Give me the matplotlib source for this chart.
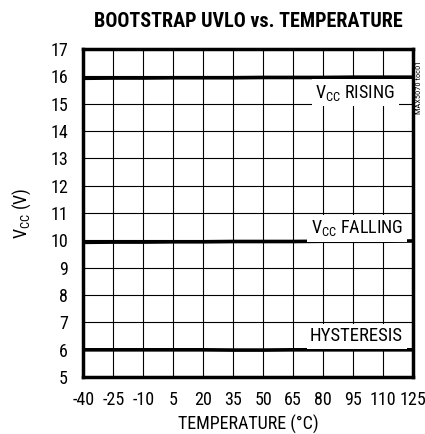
import matplotlib
matplotlib.use("Agg")
import matplotlib.pyplot as plt

# values
temperature = [-40, -25, -10, 5, 20, 35, 50, 65, 80, 95, 110, 125]
vcc_rising = [15.93, 15.94, 15.94, 15.95, 15.95, 15.95, 15.96, 15.96, 15.96, 15.97, 15.97, 15.97]
vcc_falling = [9.93, 9.94, 9.94, 9.95, 9.95, 9.96, 9.96, 9.96, 9.97, 9.97, 9.97, 9.98]
hysteresis = [6.00, 6.00, 6.00, 6.00, 6.00, 5.99, 5.99, 6.00, 6.00, 6.00, 6.00, 6.00]

x_ticks = [-40, -25, -10, 5, 20, 35, 50, 65, 80, 95, 110, 125]
y_ticks = list(range(5, 18))

plt.rcParams["font.family"] = ["Roboto Condensed", "DejaVu Sans"]
plt.rcParams["mathtext.fontset"] = "custom"
plt.rcParams["mathtext.rm"] = "Roboto Condensed"
plt.rcParams["axes.unicode_minus"] = False

fig = plt.figure(figsize=(4.25, 4.34), dpi=100)
ax = fig.add_axes([0.196, 0.131, 0.776, 0.756])

for series in (vcc_rising, vcc_falling, hysteresis):
    ax.plot(temperature, series, color="black", linewidth=2.6, zorder=3)

ax.set_xlim(-40, 125)
ax.set_ylim(5, 17)
ax.set_xticks(x_ticks)
ax.set_yticks(y_ticks)
ax.grid(True, color="black", linewidth=0.8)
ax.tick_params(axis="y", length=0, labelsize=13, pad=11)
ax.tick_params(axis="x", length=0, labelsize=13, pad=10)
for spine in ax.spines.values():
    spine.set_linewidth(2.5)

box = dict(facecolor="white", edgecolor="none", pad=2.5)
ax.text(116, 15.4, r"V$_{\mathregular{CC}}$ RISING", ha="right", va="center",
        fontsize=13, bbox=box, zorder=4)
ax.text(120, 10.45, r"V$_{\mathregular{CC}}$ FALLING", ha="right", va="center",
        fontsize=13, bbox=box, zorder=4)
ax.text(120, 6.5, "HYSTERESIS", ha="right", va="center",
        fontsize=13.5, bbox=box, zorder=4)

ax.set_xlabel("TEMPERATURE (°C)", fontsize=13, labelpad=4)
ax.set_ylabel(r"V$_{\mathregular{CC}}$ (V)", fontsize=13, labelpad=12)
ax.set_title("BOOTSTRAP UVLO vs. TEMPERATURE", fontsize=14.5, fontweight="black", pad=16)

fig.text(0.985, 0.86, "MAX5070 toc01", rotation=90, fontsize=6, ha="center", va="top")

fig.savefig("out.png", dpi=100)
plt.close(fig)
